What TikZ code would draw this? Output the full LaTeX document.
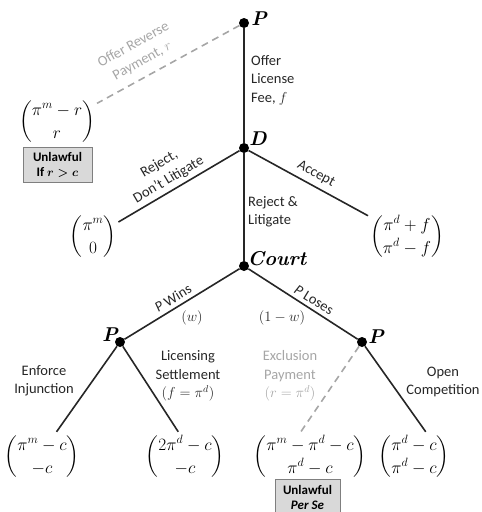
\documentclass[tikz,border=0pt]{standalone}
\usepackage{amsmath}
\usepackage{fontspec}
\setsansfont{Carlito}
\usetikzlibrary{calc}
\definecolor{ln}{HTML}{262626}
\definecolor{gr}{HTML}{A6A6A6}
\definecolor{boxfill}{HTML}{D9D9D9}
\definecolor{boxline}{HTML}{7F7F7F}
\renewcommand{\arraystretch}{1.15}
\begin{document}
\begin{tikzpicture}[x=1pt,y=-1pt,
  dot/.style={circle,fill=black,inner sep=0pt,minimum size=10pt},
  player/.style={font=\fontsize{20}{20}\selectfont\bfseries\itshape, inner sep=0pt},
  lbl/.style={font=\fontsize{14.5}{18.5}\selectfont\sffamily, align=center, text=ln, inner sep=0pt},
  glbl/.style={lbl, text=gr},
  pay/.style={font=\fontsize{16.5}{20}\selectfont, inner sep=2pt},
  conn/.style={draw=ln, line width=1.6pt},
  gconn/.style={draw=gr, line width=1.6pt, dash pattern=on 7pt off 5pt},
  ubox/.style={draw=boxline, fill=boxfill, line width=0.8pt, font=\fontsize{13}{15}\selectfont\sffamily\bfseries, align=center, minimum width=69pt, minimum height=35pt, inner sep=1pt}
]
\useasboundingbox (0,0) rectangle (482,512);

% decision nodes
\node[dot] (Pt) at (244,23) {};
\node[dot] (D) at (244,148) {};
\node[dot] (C) at (244,266) {};
\node[dot] (Pl) at (120,342) {};
\node[dot] (Pr) at (362,342) {};

\node[player] (PtL) at (259,19) {P};
\node[player] (DL) at (258,139) {D};
\node[player] (CL) at (277,259) {Court};
\node[player] (PlL) at (110,335) {P};
\node[player] (PrL) at (376,337) {P};

% payoff leaves
\node[pay] (L0) at (57,122) {$\begin{pmatrix}\pi^m - r\\ r\end{pmatrix}$};
\node[pay] (Lr) at (93,237) {$\begin{pmatrix}\pi^m\\ 0\end{pmatrix}$};
\node[pay] (La) at (407,237) {$\begin{pmatrix}\pi^d + f\\ \pi^d - f\end{pmatrix}$};
\node[pay] (L1) at (42,457) {$\begin{pmatrix}\pi^m - c\\ -c\end{pmatrix}$};
\node[pay] (L2) at (185,457) {$\begin{pmatrix}2\pi^d - c\\ -c\end{pmatrix}$};
\node[pay] (L3) at (310,457) {$\begin{pmatrix}\pi^m - \pi^d - c\\ \pi^d - c\end{pmatrix}$};
\node[pay] (L4) at (414,457) {$\begin{pmatrix}\pi^d - c\\ \pi^d - c\end{pmatrix}$};

% unlawful boxes
\node[ubox] (U1) at (57.5,165) {Unlawful\\If $\boldsymbol{r>c}$};
\node[ubox, minimum width=65pt] (U2) at (307.5,497) {Unlawful\\\textit{Per Se}};

% connectors
\draw[conn] (Pt) -- (D);
\draw[conn] (D) -- (C);
\draw[gconn] (Pt) -- (L0.25);
\draw[conn] (D) -- (Lr);
\draw[conn] (D) -- (La);
\draw[conn] (C) -- (Pl);
\draw[conn] (C) -- (Pr);
\draw[conn] (Pl) -- (L1.60);
\draw[conn] (Pl) -- (L2.105);
\draw[gconn] (Pr) -- (L3.110);
\draw[conn] (Pr) -- (L4.65);

% edge labels
\node[glbl, rotate=29.3] (t1) at (138,53) {Offer Reverse\\Payment, $r$};
\node[lbl, anchor=west, align=left] (t2) at (251,80) {Offer\\License\\Fee, $f$};
\node[lbl, rotate=30.5] (t3) at (164,172) {Reject,\\Don't Litigate};
\node[lbl, rotate=-28.6] (t4) at (316,174) {Accept};
\node[lbl, anchor=west, align=left] (t5) at (248,212) {Reject \&\\Litigate};
\node[lbl, rotate=31.5] (t6) at (173,298) {\textit{P} Wins};
\node[lbl] (t7) at (192,318) {$(w)$};
\node[lbl, rotate=-31.5] (t8) at (314,300) {\textit{P} Loses};
\node[lbl] (t9) at (282,318) {$(1-w)$};
\node[lbl] (t10) at (44,381) {Enforce\\Injunction};
\node[lbl] (t11) at (188,376) {Licensing\\Settlement\\$(f=\pi^d)$};
\node[glbl] (t12) at (290,376) {Exclusion\\Payment\\$(r=\pi^d)$};
\node[lbl] (t13) at (443,382) {Open\\Competition};
\end{tikzpicture}
\end{document}
